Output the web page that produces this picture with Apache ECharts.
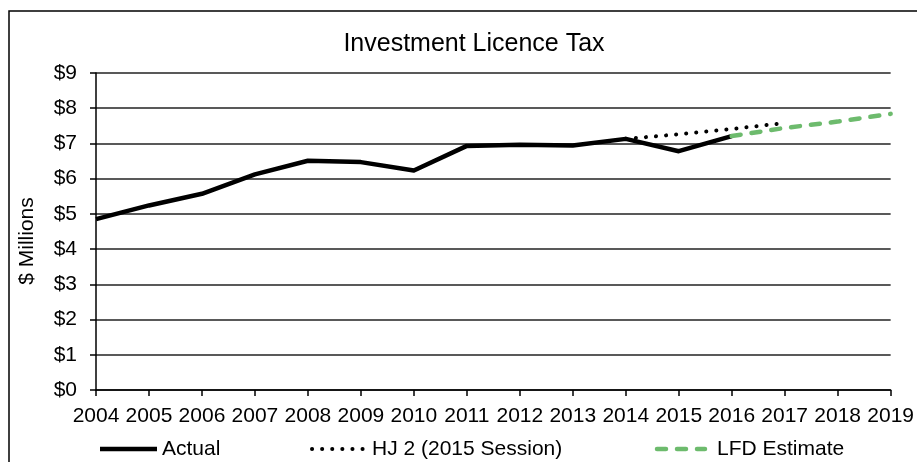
<!DOCTYPE html>
<html>
<head>
<meta charset="utf-8">
<script src="https://cdn.jsdelivr.net/npm/echarts@6/dist/echarts.min.js"></script>
<style>
  html, body { margin: 0; padding: 0; background: #fff; }
  #chart { width: 917px; height: 462px; }
</style>
</head>
<body>
<div id="chart"></div>
<script>
// Fiscal years on the category axis
const years = ['2004','2005','2006','2007','2008','2009','2010','2011','2012','2013','2014','2015','2016','2017','2018','2019'];
// Investment licence tax collections, $ millions
const actual = [4.85, 5.24, 5.57, 6.12, 6.51, 6.47, 6.23, 6.93, 6.96, 6.94, 7.13, 6.78, 7.21, null, null, null];
const hj2 = [null, null, null, null, null, null, null, null, null, null, 7.13, 7.26, 7.41, 7.58, null, null];
const lfdEstimate = [null, null, null, null, null, null, null, null, null, null, null, null, 7.21, 7.44, 7.62, 7.84];
const yTicks = [0, 1, 2, 3, 4, 5, 6, 7, 8, 9];
const seriesNames = ['Actual', 'HJ 2 (2015 Session)', 'LFD Estimate'];

const FONT = '"Liberation Sans", Arial, sans-serif';
const GREEN = '#6dbb6d';
const LABEL_SIZE = 21;

const styles = [
  { color: '#000', width: 4.5, type: 'solid', cap: 'butt' },
  { color: '#000', width: 4, type: [0.1, 10], cap: 'round' },
  { color: GREEN, width: 4.5, type: [9, 11], cap: 'round' }
];

// Legend keys: a line sample followed by its label
const legendKeys = [
  { x1: 100, x2: 157, tx: 162 },
  { x1: 312, x2: 364, tx: 372 },
  { x1: 657, x2: 705, tx: 717 }
];
const legendY = 449;
const legendGraphics = [];
legendKeys.forEach((k, i) => {
  const s = styles[i];
  legendGraphics.push({
    type: 'line', silent: true,
    shape: { x1: k.x1, y1: legendY, x2: k.x2, y2: legendY },
    style: { stroke: s.color, lineWidth: s.width, lineDash: s.type === 'solid' ? null : s.type, lineCap: s.cap }
  });
  legendGraphics.push({
    type: 'text', silent: true, x: k.tx, y: legendY,
    style: { text: seriesNames[i], font: LABEL_SIZE + 'px ' + FONT, fill: '#000', textVerticalAlign: 'middle', verticalAlign: 'middle' }
  });
});

const chart = echarts.init(document.getElementById('chart'), null, { renderer: 'canvas' });

chart.setOption({
  animation: false,
  backgroundColor: '#ffffff',
  title: {
    text: 'Investment Licence Tax',
    left: 469, top: 27, textAlign: 'center',
    textStyle: { fontFamily: FONT, fontSize: 25, fontWeight: 'normal', color: '#000' }
  },
  graphic: [
    {
      type: 'rect', silent: true,
      shape: { x: 9, y: 11, width: 1000, height: 1000 },
      style: { fill: 'none', stroke: '#000', lineWidth: 1.5 }
    },
    {
      type: 'text', silent: true, x: 27, y: 241, rotation: Math.PI / 2,
      style: { text: '$ Millions', font: LABEL_SIZE + 'px ' + FONT, fill: '#000', align: 'center', verticalAlign: 'middle', textAlign: 'center', textVerticalAlign: 'middle' }
    }
  ].concat(legendGraphics),
  grid: { left: 96, right: 24, top: 73, bottom: 72, containLabel: false },
  xAxis: {
    type: 'category',
    data: years,
    boundaryGap: false,
    axisLine: { lineStyle: { color: '#000', width: 1.5 } },
    axisTick: { show: true, length: 6, lineStyle: { color: '#000', width: 1.5 }, alignWithLabel: true },
    axisLabel: { fontFamily: FONT, fontSize: LABEL_SIZE, color: '#000', margin: 16, interval: 0 },
    splitLine: { show: false }
  },
  yAxis: {
    type: 'value',
    min: yTicks[0], max: yTicks[yTicks.length - 1], interval: 1,
    axisLine: { show: true, lineStyle: { color: '#000', width: 1.5 } },
    axisTick: { show: true, inside: false, length: 6, lineStyle: { color: '#000', width: 1.5 } },
    axisLabel: { fontFamily: FONT, fontSize: LABEL_SIZE, color: '#000', margin: 19, formatter: v => '$' + v },
    splitLine: { show: true, lineStyle: { color: '#222', width: 1.5 } }
  },
  series: [
    { name: seriesNames[0], type: 'line', data: actual, symbol: 'none', z: 3,
      lineStyle: { color: styles[0].color, width: styles[0].width, join: 'round' } },
    { name: seriesNames[1], type: 'line', data: hj2, symbol: 'none', z: 2,
      lineStyle: { color: styles[1].color, width: styles[1].width, type: styles[1].type, cap: 'round' } },
    { name: seriesNames[2], type: 'line', data: lfdEstimate, symbol: 'none', z: 4,
      lineStyle: { color: styles[2].color, width: styles[2].width, type: styles[2].type, cap: 'round' } }
  ]
});
</script>
</body>
</html>
